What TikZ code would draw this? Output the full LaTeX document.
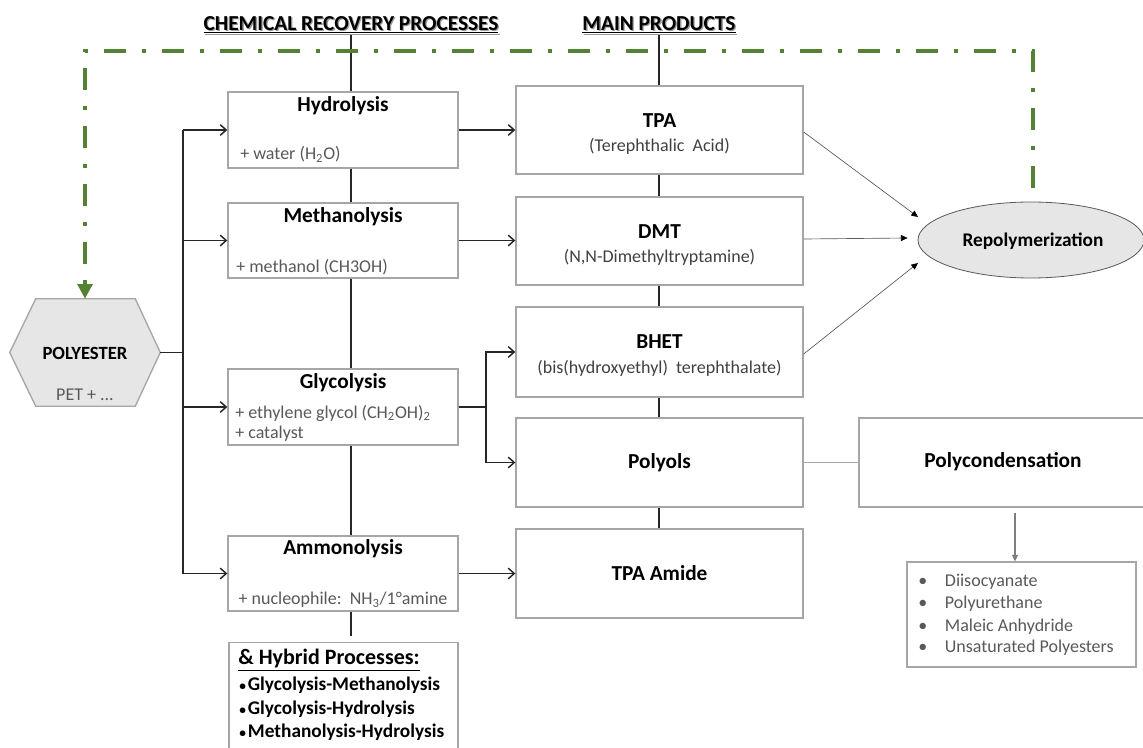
\documentclass[tikz,border=0pt]{standalone}
\usepackage{fontspec}
\setmainfont{Carlito}
\usetikzlibrary{arrows.meta,calc,shapes.geometric}
\definecolor{boxgray}{HTML}{A6A6A6}
\definecolor{txtgray}{HTML}{595959}
\definecolor{subdark}{HTML}{404040}
\definecolor{lineblk}{HTML}{262626}
\definecolor{pgreen}{HTML}{548235}
\definecolor{fillgray}{HTML}{E6E6E6}
\definecolor{shadowgray}{HTML}{9A9A9A}
\definecolor{arrgray}{HTML}{7F7F7F}
\begin{document}
\begin{tikzpicture}[x=0.75pt,y=-0.75pt,
  lbox/.style={draw=boxgray,line width=1pt,fill=white,minimum width=230*0.75pt,inner sep=0pt},
  mbox/.style={draw=boxgray,line width=1pt,fill=white,minimum width=287*0.75pt,minimum height=88*0.75pt,inner sep=0pt},
  ttl/.style={font=\fontsize{16}{19}\selectfont\bfseries,inner sep=0pt},
  head/.style={font=\fontsize{16}{19}\selectfont\bfseries,inner sep=1pt},
  subl/.style={font=\fontsize{13.5}{16}\selectfont,text=txtgray,inner sep=0pt},
  subm/.style={font=\fontsize{13.5}{16}\selectfont,text=subdark,inner sep=0pt},
  hyb/.style={font=\fontsize{14.5}{17}\selectfont\bfseries,inner sep=0pt,anchor=west},
  item/.style={font=\fontsize{13.5}{16}\selectfont,text=txtgray,inner sep=0pt,anchor=west},
  conn/.style={draw=lineblk,line width=1.1pt},
  arr/.style={conn,-{Straight Barb[length=4.5pt,width=8pt]}},
  thinarr/.style={draw=txtgray,line width=0.5pt,-{Triangle[length=5pt,width=4.5pt,color=black]}},
  grayline/.style={draw=boxgray,line width=1.1pt},
  grayarr/.style={draw=arrgray,line width=1pt,-{Triangle[length=5pt,width=4.5pt]}},
  greenl/.style={draw=pgreen,line width=3pt,line join=miter,dash pattern=on 16.5pt off 12pt on 3pt off 12pt,-{Triangle[length=11pt,width=11pt,fill=pgreen]}}
]
\useasboundingbox (0,0) rectangle (1143,748);
\fill[white] (0,0) rectangle (1143,748);

% headers
\node[head,text=shadowgray] (crpsh) at (352.3,26.3) {\underline{CHEMICAL RECOVERY PROCESSES}};
\node[head] (crp) at (351,25) {\underline{CHEMICAL RECOVERY PROCESSES}};
\node[head,text=shadowgray] (mpsh) at (660.3,26.3) {\underline{MAIN PRODUCTS}};
\node[head] (mp) at (659,25) {\underline{MAIN PRODUCTS}};

% polyester hexagon
\node[minimum width=150*0.75pt,minimum height=107*0.75pt,inner sep=0pt] (poly) at (85,352.5) {};
\draw[draw=boxgray,fill=fillgray,line width=1pt] (poly.west) -- ($(poly.north west)+(26,0)$) -- ($(poly.north east)+(-25,0)$) -- (poly.east) -- ($(poly.south east)+(-25,0)$) -- ($(poly.south west)+(26,0)$) -- cycle;
\node[font=\fontsize{14}{17}\selectfont\bfseries,inner sep=0pt] (polyt) at (85,353) {POLYESTER};
\node[subl] (polys) at (85,395) {PET + ...};

% left column
\node[lbox,minimum height=76*0.75pt] (hyd) at (343,130) {};
\node[ttl] (hydt) at (343,106) {Hydrolysis};
\node[subl,anchor=west] (hyds) at (240,154) {+ water (H\textsubscript{2}O)};

\node[lbox,minimum height=75*0.75pt] (meth) at (343,240.5) {};
\node[ttl] (metht) at (343,217) {Methanolysis};
\node[subl,anchor=west] (meths) at (236,267) {+ methanol (CH3OH)};

\node[lbox,minimum height=76*0.75pt] (gly) at (343,407) {};
\node[ttl] (glyt) at (343,383) {Glycolysis};
\node[subl,anchor=west] (glys1) at (235,413) {+ ethylene glycol (CH\textsubscript{2}OH)\textsubscript{2}};
\node[subl,anchor=west] (glys2) at (235,434) {+ catalyst};

\node[lbox,minimum height=75*0.75pt] (amm) at (343,573.5) {};
\node[ttl] (ammt) at (343,549) {Ammonolysis};
\node[subl] (amms) at (343,600) {+ nucleophile:~~NH\textsubscript{3}/1°amine};

\node[lbox,minimum width=229*0.75pt,minimum height=115*0.75pt,anchor=north] (hyb) at (343.5,642) {};
\node[font=\fontsize{16.5}{19}\selectfont\bfseries,inner sep=0pt,anchor=west] (hybt) at (238,660) {\underline{\& Hybrid Processes:}};
\node[hyb] (hyb1) at (239,685) {{\fontsize{10}{12}\selectfont•}\kern1.5pt Glycolysis-Methanolysis};
\node[hyb] (hyb2) at (239,709) {{\fontsize{10}{12}\selectfont•}\kern1.5pt Glycolysis-Hydrolysis};
\node[hyb] (hyb3) at (239,732) {{\fontsize{10}{12}\selectfont•}\kern1.5pt Methanolysis-Hydrolysis};

% middle column
\node[mbox] (tpa) at (659.5,130) {};
\node[ttl] (tpat) at (659.5,121) {TPA};
\node[subm] (tpas) at (659.5,146) {(Terephthalic~~Acid)};

\node[mbox] (dmt) at (659.5,241) {};
\node[ttl] (dmtt) at (659.5,232) {DMT};
\node[subm] (dmts) at (659.5,257) {(N,N-Dimethyltryptamine)};

\node[mbox,minimum height=90*0.75pt] (bhet) at (659.5,352) {};
\node[ttl] (bhett) at (659.5,342) {BHET};
\node[subm] (bhets) at (659.5,368) {(bis(hydroxyethyl)~~terephthalate)};

\node[mbox,minimum height=89*0.75pt] (pol) at (659.5,462.5) {};
\node[ttl] (polt) at (659.5,463) {Polyols};

\node[mbox,minimum height=89*0.75pt] (amide) at (659.5,573.5) {};
\node[ttl] (amidet) at (659.5,573) {TPA Amide};

% right side
\node[ellipse,draw=txtgray,fill=fillgray,line width=0.6pt,minimum width=226*0.75pt,minimum height=76*0.75pt,inner sep=0pt] (repo) at (1031,240) {};
\node[font=\fontsize{14.5}{17}\selectfont\bfseries,inner sep=0pt] (repot) at (1033,241) {Repolymerization};

\node[draw=boxgray,line width=1pt,minimum width=288*0.75pt,minimum height=89*0.75pt,inner sep=0pt] (pc) at (1003,462.5) {};
\node[ttl] (pct) at (1003,462) {Polycondensation};

\node[draw=boxgray,line width=0.8pt,minimum width=229*0.75pt,minimum height=105*0.75pt,inner sep=0pt] (lst) at (1021.5,614.5) {};
\node[item] (l1) at (918,582) {\makebox[20pt][l]{•}Diisocyanate};
\node[item] (l2) at (918,604) {\makebox[20pt][l]{•}Polyurethane};
\node[item] (l3) at (918,627) {\makebox[20pt][l]{•}Maleic Anhydride};
\node[item] (l4) at (918,648) {\makebox[20pt][l]{•}Unsaturated Polyesters};

% connectors: headers
\draw[conn] (crp.south) -- (crp.south |- hyd.north);
\draw[conn] (mp.south) -- (mp.south |- tpa.north);

% vertical chain left
\draw[conn] (hyd.south -| crp.south) -- (meth.north -| crp.south);
\draw[conn] (meth.south -| crp.south) -- (gly.north -| crp.south);
\draw[conn] (gly.south -| crp.south) -- (amm.north -| crp.south);
\coordinate (hybtop) at ($(hyb.north)+(8,-6)$);
\draw[conn] (amm.south -| crp.south) -- (hybtop -| crp.south);

% vertical chain middle
\draw[conn] (tpa.south -| mp.south) -- (dmt.north -| mp.south);
\draw[conn] (dmt.south -| mp.south) -- (bhet.north -| mp.south);
\draw[conn] (bhet.south -| mp.south) -- (pol.north -| mp.south);
\draw[conn] (pol.south -| mp.south) -- (amide.north -| mp.south);

% bus from polyester
\coordinate (bus) at (183,352.5);
\draw[conn] (poly.east) -- (bus);
\draw[conn] (bus |- hyd.west) -- (bus |- amm.west);
\draw[arr] (bus |- hyd.west) -- (hyd.west);
\draw[arr] (bus |- meth.west) -- (meth.west);
\draw[arr] (bus |- gly.west) -- (gly.west);
\draw[arr] (bus |- amm.west) -- (amm.west);

% left to middle
\draw[arr] (hyd.east) -- (tpa.west);
\draw[arr] (meth.east) -- (meth.east -| dmt.west);
\coordinate (gsplit) at (486,407);
\draw[conn] (gly.east) -- (gsplit);
\draw[arr] (gsplit) |- (bhet.west);
\draw[arr] (gsplit) |- (pol.west);
\draw[arr] (amm.east) -- (amm.east -| amide.west);

% to repolymerization
\draw[thinarr] ($(tpa.east)+(0,2)$) -- ($(repo.center)+(-113,-23)$);
\draw[thinarr] ($(dmt.east)+(0,-2)$) -- ($(repo.west)+(-10,-2)$);
\draw[thinarr] ($(bhet.east)+(0,2)$) -- ($(repo.center)+(-113,23)$);

% polyols to polycondensation
\draw[grayline] (pol.east) -- (pc.west);
\coordinate (pcout) at ($(pc.south)+(12,5)$);
\draw[grayarr] (pcout) -- (pcout |- lst.north);

% green feedback loop
\draw[greenl] ($(repo.north)+(2,-14)$) |- ($(poly.north)+(0,-248)$) -- (poly.north);
\end{tikzpicture}
\end{document}
